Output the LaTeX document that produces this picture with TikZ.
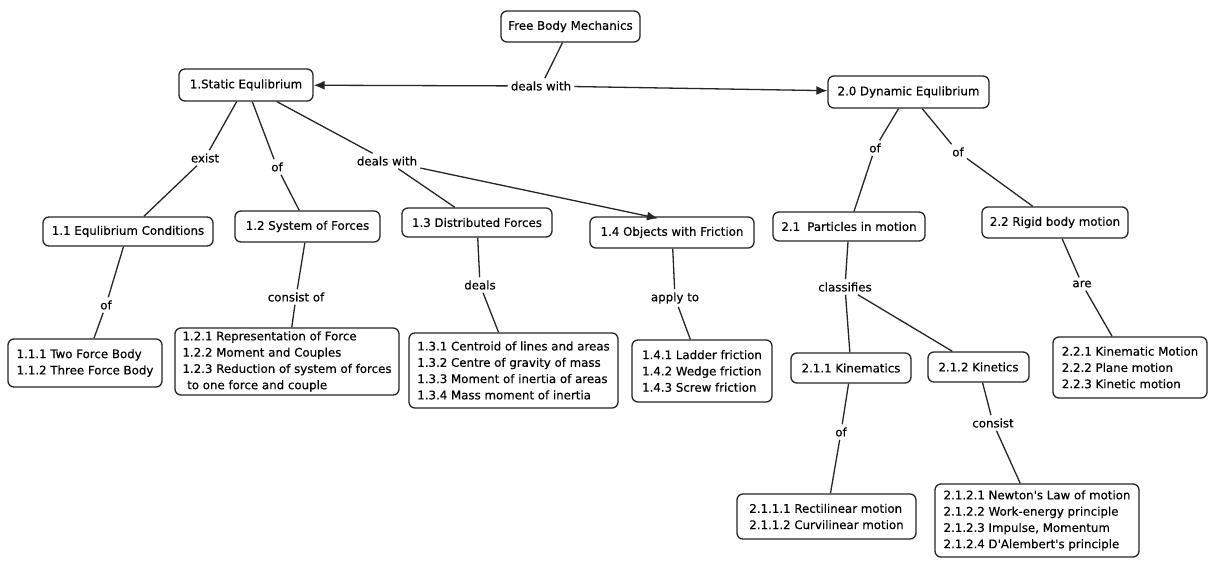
\documentclass[tikz,border=0pt]{standalone}
\usepackage{fontspec}
\setmainfont{DejaVu Sans}[Ligatures=TeXOff, FakeBold=0.3]
\usetikzlibrary{arrows.meta}
\begin{document}
\begin{tikzpicture}[x=1pt,y=-1pt,
  box/.style={draw=black!85, line width=1.3pt, rounded corners=6pt, fill=white, inner sep=0pt,
              font=\fontsize{11.8}{16.3}\selectfont, text=black},
  ml/.style={box, align=left},
  lab/.style={inner sep=3pt, font=\fontsize{11.8}{14}\selectfont, text=black},
  con/.style={draw=black!85, line width=1.3pt},
  arr/.style={con, -{Latex[length=11pt,width=9pt]}}
]
\useasboundingbox (0,0) rectangle (1208,565);
\fill[white] (0,0) rectangle (1208,565);

% concept boxes
\node[box, minimum width=139pt, minimum height=31pt] (fbm) at (570.5,26.5) {Free Body Mechanics};
\node[box, minimum width=134pt, minimum height=32pt] (stat) at (246,85) {1.Static Equlibrium};
\node[box, minimum width=161pt, minimum height=32pt] (dyn) at (908.5,92) {2.0 Dynamic Equlibrium};

\node[box, minimum width=170pt, minimum height=29pt] (n11) at (128,231.5) {1.1 Equlibrium Conditions};
\node[box, minimum width=145pt, minimum height=31pt] (n12) at (307.5,226.5) {1.2 System of Forces};
\node[box, minimum width=150pt, minimum height=29pt] (n13) at (477,222.5) {1.3 Distributed Forces};
\node[box, minimum width=164pt, minimum height=31pt] (n14) at (672,232.5) {1.4 Objects with Friction};
\node[box, minimum width=152pt, minimum height=29pt] (n21) at (849,226.5) {2.1\hspace{0.6em}Particles in motion};
\node[box, minimum width=146pt, minimum height=31pt] (n22) at (1055,222.5) {2.2 Rigid body motion};

\node[ml, minimum width=154pt, minimum height=48pt] (n11x) at (85,363)
  {1.1.1 Two Force Body\\1.1.2 Three Force Body};
\node[ml, minimum width=224pt, minimum height=67pt] (n12x) at (287,361.5)
  {1.2.1 Representation of Force\\1.2.2 Moment and Couples\\1.2.3 Reduction of system of forces\\\hspace{0.4em}to one force and couple};
\node[ml, minimum width=209pt, minimum height=75pt] (n13x) at (513.5,370.5)
  {1.3.1 Centroid of lines and areas\\1.3.2 Centre of gravity of mass\\1.3.3 Moment of inertia of areas\\1.3.4 Mass moment of inertia};
\node[ml, minimum width=140pt, minimum height=62pt] (n14x) at (702,371)
  {1.4.1 Ladder friction\\1.4.2 Wedge friction\\1.4.3 Screw friction};
\node[box, minimum width=120pt, minimum height=30pt] (n211) at (851,368) {2.1.1 Kinematics};
\node[box, minimum width=101pt, minimum height=30pt] (n212) at (978.5,367) {2.1.2 Kinetics};
\node[ml, minimum width=154pt, minimum height=61pt] (n22x) at (1130,367.5)
  {2.2.1 Kinematic Motion\\2.2.2 Plane motion\\2.2.3 Kinetic motion};
\node[ml, minimum width=179pt, minimum height=45pt] (n211x) at (826.5,516.5)
  {2.1.1.1 Rectilinear motion\\2.1.1.2 Curvilinear motion};
\node[ml, minimum width=204pt, minimum height=73pt] (n212x) at (1037,520.5)
  {2.1.2.1 Newton's Law of motion\\2.1.2.2 Work-energy principle\\2.1.2.3 Impulse, Momentum\\2.1.2.4 D'Alembert's principle};

% linking phrases
\node[lab] (l0) at (541,86) {deals with};
\node[lab] (lexist) at (205,158) {exist};
\node[lab] (lof12) at (277,167) {of};
\node[lab] (ldw) at (387,161) {deals with};
\node[lab] (lof11) at (106,305) {of};
\node[lab] (lcons12) at (296,297) {consist of};
\node[lab] (ldeals) at (480,285) {deals};
\node[lab] (lapply) at (675,298) {apply to};
\node[lab] (lof21) at (875,148) {of};
\node[lab] (lof22) at (958,152) {of};
\node[lab] (lclass) at (845,287) {classifies};
\node[lab] (lare) at (1082,284) {are};
\node[lab] (lof211) at (841,432) {of};
\node[lab] (lcons212) at (993,423) {consist};

% connectors
\draw[con] (fbm) -- (l0);
\draw[arr] (l0) -- (stat);
\draw[arr] (l0) -- (dyn);

\draw[con] (stat) -- (lexist);
\draw[con] (lexist) -- (n11);
\draw[con] (stat) -- (lof12);
\draw[con] (lof12) -- (n12);
\draw[con] (stat) -- (ldw);
\draw[con] (ldw) -- (n13);
\coordinate (t14) at ([xshift=-14pt,yshift=-2pt]n14.north);
\draw[arr] (ldw) -- (t14);

\draw[con] (n11) -- (lof11);
\draw[con] (lof11) -- (n11x);
\draw[con] (n12) -- (lcons12);
\draw[con] (lcons12) -- (n12x);
\draw[con] (n13) -- (ldeals);
\draw[con] (ldeals) -- (n13x);
\draw[con] (n14) -- (lapply);
\draw[con] (lapply) -- (n14x);

\draw[con] (dyn) -- (lof21);
\draw[con] (lof21) -- (n21);
\draw[con] (dyn) -- (lof22);
\draw[con] (lof22) -- (n22);
\draw[con] (n21) -- (lclass);
\draw[con] (lclass) -- (n211);
\draw[con] (lclass) -- (n212);
\draw[con] (n22) -- (lare);
\draw[con] (lare) -- (n22x);
\draw[con] (n211) -- (lof211);
\draw[con] (lof211) -- (n211x);
\draw[con] (n212) -- (lcons212);
\draw[con] (lcons212) -- (n212x);
\end{tikzpicture}
\end{document}
